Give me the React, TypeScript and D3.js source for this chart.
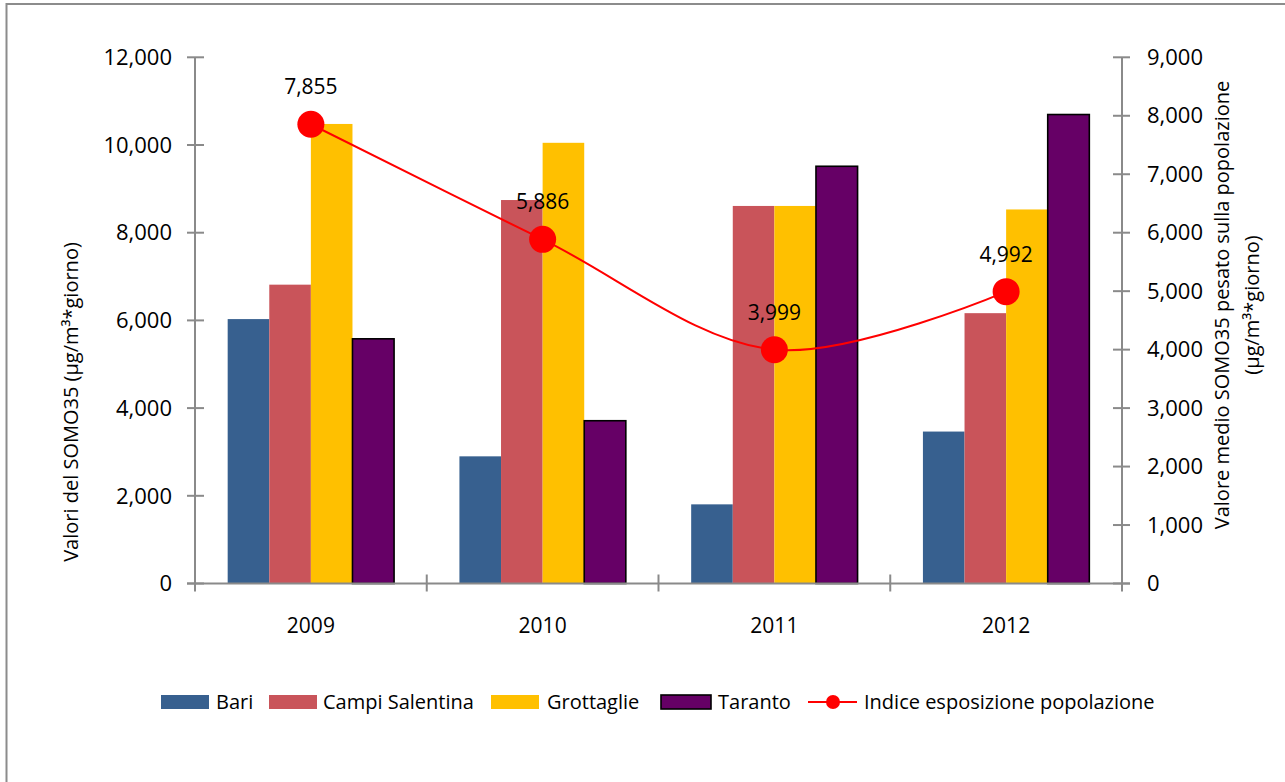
import React, { useEffect, useRef } from "react";
import * as d3 from "d3";

// data
const years = ["2009", "2010", "2011", "2012"];
const seriesNames = ["Bari", "Campi Salentina", "Grottaglie", "Taranto"];
const bari = [6030, 2900, 1805, 3465];
const campi = [6815, 8745, 8610, 6165];
const grottaglie = [10480, 10050, 8610, 8530];
const taranto = [5580, 3712, 9515, 10695];
const indice = [7855, 5886, 3999, 4992];
const leftTicks = [0, 2000, 4000, 6000, 8000, 10000, 12000];
const rightTicks = [0, 1000, 2000, 3000, 4000, 5000, 6000, 7000, 8000, 9000];

const colors = ["#37608F", "#C9545A", "#FFC000", "#660066"];
const lineColor = "#FF0000";
const axisColor = "#8A8A8A";
const font = "'Open Sans', 'Noto Sans', sans-serif";

function App() {
  const ref = useRef<SVGSVGElement>(null);

  useEffect(() => {
    drawChart();
  }, []);

  function drawChart() {
    const svg = d3.select(ref.current);
    svg.selectAll("*").remove();

    const left = 195,
      right = 1122,
      top = 57.3,
      bottom = 583.5;

    const x = d3.scaleBand().domain(years).range([left, right]).padding(0);
    const step = x.bandwidth();
    const inner = d3
      .scaleBand()
      .domain(seriesNames)
      .range([step * 0.141, step * 0.859])
      .padding(0);
    const yL = d3.scaleLinear().domain([0, 12000]).range([bottom, top]);
    const yR = d3.scaleLinear().domain([0, 9000]).range([bottom, top]);
    const fmt = d3.format(",");

    // chart border (only top and left edges visible)
    svg
      .append("rect")
      .attr("x", 6.5)
      .attr("y", 4)
      .attr("width", 1300)
      .attr("height", 800)
      .attr("fill", "#fff")
      .attr("stroke", "#8C8C8C")
      .attr("stroke-width", 2);

    // bars
    const series = [bari, campi, grottaglie, taranto];
    series.forEach((vals, si) => {
      svg
        .append("g")
        .selectAll("rect")
        .data(vals)
        .join("rect")
        .attr("x", (d, i) => x(years[i])! + inner(seriesNames[si])!)
        .attr("y", (d) => yL(d))
        .attr("width", inner.bandwidth())
        .attr("height", (d) => bottom - yL(d))
        .attr("fill", colors[si])
        .attr("stroke", si === 3 ? "#000" : "none")
        .attr("stroke-width", 1.6);
    });

    // axes
    const ax = svg.append("g").attr("stroke", axisColor).attr("stroke-width", 2);
    ax.append("line").attr("x1", left).attr("x2", left).attr("y1", top).attr("y2", bottom + 8);
    ax.append("line").attr("x1", right).attr("x2", right).attr("y1", top).attr("y2", bottom + 8);
    ax.append("line").attr("x1", left - 8).attr("x2", right + 8).attr("y1", bottom).attr("y2", bottom);
    ax.selectAll(".lt")
      .data(leftTicks)
      .join("line")
      .attr("x1", left - 8)
      .attr("x2", left + 9)
      .attr("y1", (d) => yL(d))
      .attr("y2", (d) => yL(d));
    ax.selectAll(".rt")
      .data(rightTicks)
      .join("line")
      .attr("class", "rt")
      .attr("x1", right - 9)
      .attr("x2", right + 8)
      .attr("y1", (d) => yR(d))
      .attr("y2", (d) => yR(d));
    ax.selectAll(".xt")
      .data(years.slice(1))
      .join("line")
      .attr("class", "xt")
      .attr("x1", (d) => x(d)!)
      .attr("x2", (d) => x(d)!)
      .attr("y1", bottom - 9)
      .attr("y2", bottom + 8);

    // tick labels
    svg
      .append("g")
      .selectAll("text")
      .data(leftTicks)
      .join("text")
      .attr("x", 172)
      .attr("y", (d) => yL(d))
      .attr("dy", "0.35em")
      .attr("text-anchor", "end")
      .attr("font-size", 22)
      .text((d) => fmt(d));
    svg
      .append("g")
      .selectAll("text")
      .data(rightTicks)
      .join("text")
      .attr("x", 1147)
      .attr("y", (d) => yR(d))
      .attr("dy", "0.35em")
      .attr("font-size", 22)
      .text((d) => fmt(d));
    svg
      .append("g")
      .selectAll("text")
      .data(years)
      .join("text")
      .attr("x", (d) => x(d)! + step / 2)
      .attr("y", 633)
      .attr("text-anchor", "middle")
      .attr("font-size", 21)
      .text((d) => d);

    // axis titles
    svg
      .append("text")
      .attr("transform", "translate(78,402) rotate(-90)")
      .attr("text-anchor", "middle")
      .attr("font-size", 20)
      .text("Valori del SOMO35 (µg/m³*giorno)");
    const rt = svg
      .append("text")
      .attr("transform", "translate(1229,305) rotate(-90)")
      .attr("text-anchor", "middle")
      .attr("font-size", 20);
    rt.append("tspan").attr("x", 0).attr("dy", 0).text("Valore medio SOMO35 pesato sulla popolazione");
    rt.append("tspan").attr("x", 0).attr("dy", 30).text("(µg/m³*giorno)");

    // line series
    const pts = indice.map((v, i) => [x(years[i])! + step / 2, yR(v)] as [number, number]);
    svg
      .append("path")
      .datum(pts)
      .attr("fill", "none")
      .attr("stroke", lineColor)
      .attr("stroke-width", 2)
      .attr("d", d3.line().curve(d3.curveCatmullRom.alpha(0.5)));
    svg
      .append("g")
      .selectAll("circle")
      .data(pts)
      .join("circle")
      .attr("cx", (d) => d[0])
      .attr("cy", (d) => d[1])
      .attr("r", 13.5)
      .attr("fill", lineColor);
    svg
      .append("g")
      .selectAll("text")
      .data(indice)
      .join("text")
      .attr("x", (d, i) => pts[i][0])
      .attr("y", (d, i) => pts[i][1] - 30)
      .attr("text-anchor", "middle")
      .attr("font-size", 21)
      .text((d) => fmt(d));

    // legend
    const legendX = [161, 269, 491, 661];
    const textX = [216, 323, 547, 718];
    const lg = svg.append("g");
    seriesNames.forEach((name, i) => {
      lg.append("rect")
        .attr("x", legendX[i])
        .attr("y", 695)
        .attr("width", i === 3 ? 50 : 48)
        .attr("height", 14)
        .attr("fill", colors[i])
        .attr("stroke", i === 3 ? "#000" : "none")
        .attr("stroke-width", 1.6);
      lg.append("text")
        .attr("x", textX[i])
        .attr("y", 702)
        .attr("dy", "0.35em")
        .attr("font-size", 20)
        .text(name);
    });
    lg.append("line")
      .attr("x1", 808)
      .attr("x2", 857)
      .attr("y1", 702)
      .attr("y2", 702)
      .attr("stroke", lineColor)
      .attr("stroke-width", 2);
    lg.append("circle").attr("cx", 833).attr("cy", 702).attr("r", 7).attr("fill", lineColor);
    lg.append("text")
      .attr("x", 864)
      .attr("y", 702)
      .attr("dy", "0.35em")
      .attr("font-size", 20)
      .text("Indice esposizione popolazione");
  }

  return (
    <svg
      ref={ref}
      width={1285}
      height={782}
      style={{ position: "absolute", left: 0, top: 0, fontFamily: font }}
    />
  );
}

export default App;
